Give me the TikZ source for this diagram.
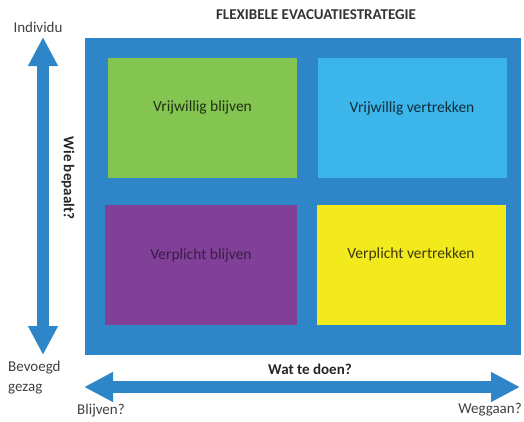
\documentclass[tikz,border=0pt]{standalone}
\usepackage{fontspec}
\setmainfont{Carlito}
\usetikzlibrary{arrows.meta,positioning}
\definecolor{frameblue}{RGB}{46,134,200}
\definecolor{qgreen}{RGB}{132,196,80}
\definecolor{qsky}{RGB}{60,182,234}
\definecolor{qpurple}{RGB}{128,64,152}
\definecolor{qyellow}{RGB}{243,234,30}

\begin{document}
\begin{tikzpicture}[x=1pt,y=-1pt,
    quad/.style={minimum width=189pt,minimum height=120pt,inner sep=0pt},
    quadtext/.style={yshift=10pt,font=\fontsize{15.5}{18}\selectfont},
    side/.style={text=black!75,font=\fontsize{15}{20}\selectfont,inner sep=0pt},
    axis/.style={draw=frameblue,line width=12pt,
      {Triangle[width=28pt,length=29pt]}-{Triangle[width=28pt,length=29pt]}}]
\useasboundingbox (0,0) rectangle (524,421);

% blue field with the four strategies
\node[fill=frameblue,minimum width=436pt,minimum height=317pt,inner sep=0pt] (frame) at (303,196.5) {};
\node[quad,fill=qgreen,label={[quadtext,text=qgreen!25!black]center:Vrijwillig blijven}] (vb) at (202.5,117.5) {};
\node[quad,fill=qsky,label={[quadtext,text=qsky!25!black]center:Vrijwillig vertrekken}] (vv) at (412,118) {};
\node[quad,fill=qpurple,minimum width=192pt,label={[quadtext,text=qpurple!45!black]center:Verplicht blijven}] (pb) at (201,265) {};
\node[quad,fill=qyellow,label={[quadtext,text=qyellow!25!black]center:Verplicht vertrekken}] (pv) at (411,264.5) {};

\node[font=\bfseries\fontsize{15}{18}\selectfont,text=black!80] (title) at (316,15) {FLEXIBELE EVACUATIESTRATEGIE};

% vertical axis: who decides
\coordinate (ytop) at (43,37);
\coordinate (ybot) at (43,355);
\draw[axis] (ytop) -- (ybot);
\node[side] (indiv) at (38,27) {Individu};
\node[side,anchor=north west,align=left] (gezag) at (8,361) {Bevoegd\\gezag};
\node[font=\bfseries\fontsize{15}{18}\selectfont,text=black!85,rotate=-90] (wie) at (68,178) {Wie bepaalt?};

% horizontal axis: what to do
\coordinate (xleft) at (84,387);
\coordinate (xright) at (520,387);
\draw[axis] (xleft) -- (xright);
\node[font=\bfseries\fontsize{15}{18}\selectfont,text=black!85] (wat) at (310,369) {Wat te doen?};
\node[side] (blijven) at (101,411) {Blijven?};
\node[side] (weg) at (490,410) {Weggaan?};
\end{tikzpicture}
\end{document}
